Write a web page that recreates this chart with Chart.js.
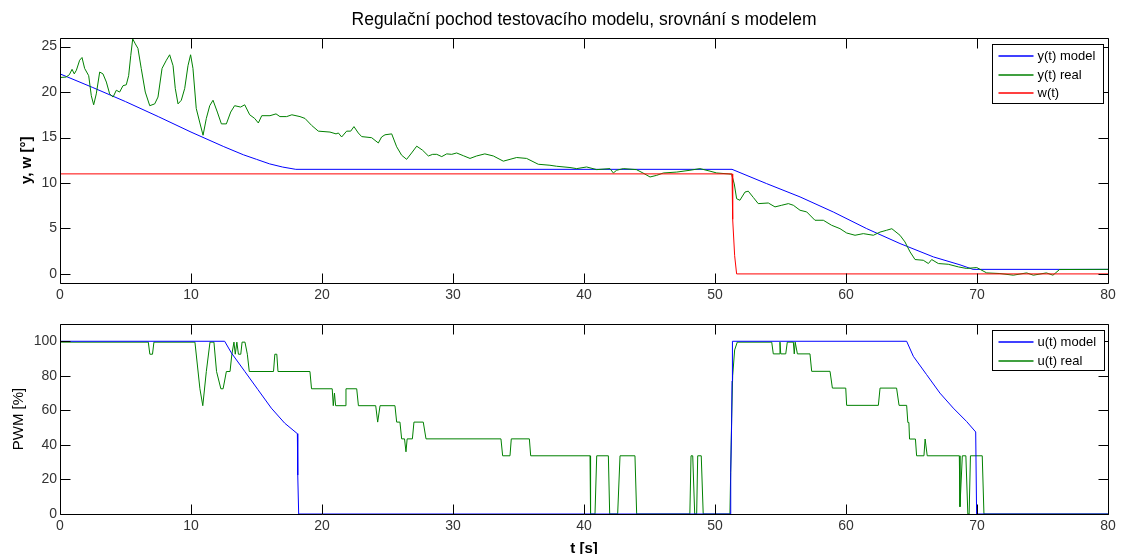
<!DOCTYPE html>
<html lang="cs">
<head>
<meta charset="UTF-8">
<title>Regulační pochod testovacího modelu</title>
<script src="https://cdn.jsdelivr.net/npm/chart.js@4"></script>
<style>
    body { margin: 0; background: #fff; font-family: "Liberation Sans", Arial, sans-serif; }
    #wrap { position: relative; width: 1126px; height: 554px; overflow: hidden; background: #fff; }
    #top { position: absolute; left: 0; top: 0; }
    #bottom { position: absolute; left: 0; top: 305px; }
</style>
</head>
<body>
<div id="wrap">
    <canvas id="top" width="1126" height="305"></canvas>
    <canvas id="bottom" width="1126" height="255"></canvas>
</div>
<script>
    // --- values ---
    const xTicks = [0, 10, 20, 30, 40, 50, 60, 70, 80];
    const yTicksTop = [0, 5, 10, 15, 20, 25];
    const yTicksBottom = [0, 20, 40, 60, 80, 100];

    // y(t) model
    const yModelT = [0, 2.5, 5, 7.5, 10, 12.5, 14, 15, 16, 17, 18, 51.3, 53.94, 56.49, 59.03, 61.58, 64.12, 66.67, 68.7, 69.7, 80];
    const yModelV = [22, 20.5, 18.95, 17.3, 15.6, 14.0, 13.1, 12.6, 12.1, 11.75, 11.5, 11.5, 9.93, 8.47, 6.81, 4.98, 3.34, 1.87, 1.0, 0.5, 0.5];

    // y(t) real
    const yRealT = [0, 0.46, 0.71, 0.92, 1.09, 1.25, 1.5, 1.68, 1.88, 2.19, 2.39, 2.57, 2.77, 3.03, 3.28, 3.54, 3.79, 4.05, 4.3, 4.55,
        4.81, 5.06, 5.24, 5.4, 5.55, 5.75, 5.95, 6.2, 6.51, 6.85, 7.23, 7.48, 7.79, 8.12, 8.37, 8.63, 8.8, 9.01, 9.26, 9.52,
        9.77, 9.97, 10.15, 10.4, 10.66, 10.92, 11.17, 11.43, 11.68, 12.01, 12.32, 12.7, 13.03, 13.33, 13.79, 14.1, 14.48, 14.86, 15.14, 15.4,
        16.03, 16.49, 16.79, 17.3, 17.7, 18.32, 18.7, 19.21, 19.72, 20.61, 21.07, 21.25, 21.5, 21.88, 22.19, 22.44, 22.77, 23.03, 23.79, 24.3,
        24.55, 24.81, 25.32, 25.7, 26.08, 26.46, 26.84, 27.23, 27.68, 28.12, 28.45, 28.76, 29.14, 29.52, 29.9, 30.28, 30.79, 31.3, 31.8, 32.43,
        33.08, 33.84, 34.86, 35.62, 36.51, 37.4, 37.91, 38.93, 39.44, 40.2, 40.97, 41.98, 42.24, 42.49, 43.0, 44.0, 44.5, 45.04, 45.55, 46.06,
        47.08, 48.09, 48.85, 49.62, 50.13, 51.0, 51.27, 51.47, 51.65, 51.9, 52.29, 52.54, 52.93, 53.3, 54.07, 54.58, 55.09, 55.6, 55.98, 56.49,
        57.0, 57.63, 58.27, 58.9, 59.54, 60.05, 60.69, 61.32, 62.09, 62.6, 63.1, 63.5, 64.12, 64.5, 64.89, 65.27, 65.9, 66.29, 66.54, 67.05,
        67.81, 68.58, 69.2, 69.98, 70.74, 71.75, 72.77, 73.79, 74.3, 75.3, 75.8, 76.3, 80];
    const yRealV = [21.6, 21.65, 21.9, 22.5, 22.0, 22.4, 23.5, 23.8, 22.6, 21.8, 19.6, 18.6, 19.8, 22.2, 22.0, 21.1, 19.8, 19.45, 20.2, 20.0,
        20.7, 20.8, 21.8, 24.0, 25.85, 25.3, 24.8, 22.6, 20.0, 18.5, 18.7, 19.45, 22.6, 23.5, 24.1, 22.9, 20.4, 18.7, 19.1, 20.4,
        22.9, 24.1, 22.6, 18.2, 16.7, 15.25, 17.1, 18.5, 19.1, 17.8, 16.5, 16.5, 17.8, 18.5, 18.35, 18.6, 17.5, 17.1, 16.6, 17.4,
        17.4, 17.6, 17.3, 17.3, 17.5, 17.3, 17.1, 16.33, 15.7, 15.6, 15.4, 15.5, 15.06, 15.7, 15.7, 16.2, 15.5, 15.1, 14.98, 14.4,
        15.06, 15.3, 15.4, 13.98, 13.05, 12.6, 13.3, 14.05, 13.6, 12.97, 13.15, 13.15, 12.9, 13.2, 13.15, 13.3, 13.0, 12.7, 12.97, 13.2,
        12.97, 12.4, 12.8, 12.7, 12.06, 11.95, 11.84, 11.7, 11.58, 11.76, 11.47, 11.58, 11.1, 11.4, 11.58, 11.47, 11.1, 10.66, 10.84, 11.1,
        11.2, 11.4, 11.58, 11.3, 11.1, 11.0, 10.96, 9.9, 8.27, 8.1, 9.0, 9.1, 8.4, 7.73, 7.8, 7.37, 7.55, 7.73, 7.55, 7.0,
        6.82, 5.9, 5.9, 5.35, 4.98, 4.5, 4.25, 4.43, 4.25, 4.6, 4.8, 4.97, 4.25, 3.52, 2.42, 1.58, 1.5, 1.14, 1.58, 1.14,
        1.06, 0.77, 0.6, 0.7, 0.11, 0.04, -0.14, 0.11, -0.14, 0.11, -0.14, 0.48, 0.5];

    // w(t)
    const wT = [0, 51.3, 51.35, 51.5, 51.65, 80];
    const wV = [11, 11, 6, 2, 0, 0];

    // u(t) model
    const uModelT = [0, 12.57, 13.08, 14.1, 15.11, 16.13, 17.15, 18.12, 18.15, 18.22, 51.15, 51.2, 51.27, 51.3, 51.33,
        64.63, 65.14, 66.15, 67.17, 68.19, 69.2, 69.9, 69.97, 80];
    const uModelV = [100, 100, 93.3, 82.6, 72, 61.3, 52.6, 46.5, 22.5, 0, 0, 24, 52, 77, 100,
        100, 91.3, 80.7, 70, 61.3, 53.6, 47.5, 0, 0];

    // u(t) real
    const uRealT = [0, 6.74, 6.86, 7.06, 7.17, 10.3, 10.68, 10.9, 11.17, 11.45, 11.75, 11.95, 12.28, 12.45, 12.7, 12.98, 13.12, 13.28, 13.38, 13.5,
        13.62, 13.8, 13.9, 14.12, 14.3, 14.45, 16.3, 16.4, 16.55, 16.64, 19.08, 19.2, 20.78, 20.86, 20.95, 21.04, 21.76, 21.83, 22.65, 22.78,
        24.1, 24.25, 24.43, 25.57, 25.7, 25.95, 26.08, 26.3, 26.41, 26.5, 26.9, 27.02, 27.73, 27.94, 33.66, 33.79, 34.35, 34.45, 35.83, 35.93,
        40.46, 40.5, 40.84, 40.97, 41.86, 41.96, 42.57, 42.75, 43.89, 44.02, 48.08, 48.17, 48.3, 48.45, 48.6, 48.68, 48.95, 49.1, 51.14, 51.27,
        51.35, 51.5, 51.7, 54.33, 54.45, 54.9, 54.96, 55.02, 55.4, 55.52, 55.98, 56.05, 56.12, 56.29, 57.25, 57.38, 58.78, 58.96, 59.98, 60.05,
        62.47, 62.6, 63.86, 64.05, 64.63, 64.72, 64.8, 64.85, 65.3, 65.39, 65.95, 66.04, 66.1, 66.2, 68.65, 68.7, 68.88, 69.15, 69.3, 69.4,
        69.5, 70.4, 70.53, 80];
    const uRealV = [99.5, 99.5, 92.5, 92.5, 99.5, 99.5, 72.5, 62.7, 82.5, 99.5, 99.5, 82.5, 72.5, 72.5, 82.5, 82.5, 92.5, 99.5, 92.5, 99.5,
        92.5, 92.5, 99.5, 99.5, 92.5, 82.5, 82.5, 92.5, 92.5, 82.5, 82.5, 72.5, 72.5, 62.7, 70, 62.7, 62.7, 72.5, 72.5, 62.7,
        62.7, 53.2, 62.7, 62.7, 53.2, 53.2, 43.5, 43.5, 36, 43.5, 43.5, 53.2, 53.2, 43.5, 43.5, 33.7, 33.7, 43.5, 43.5, 33.7,
        33.7, 0, 0, 33.7, 33.7, 0, 0, 33.7, 33.7, 0, 0, 33.7, 33.7, 0, 0, 33.7, 33.7, 0, 0, 55,
        80, 95, 99.5, 99.5, 92.7, 92.7, 99.5, 92.7, 92.7, 99.5, 99.5, 92.7, 99.5, 92.7, 92.7, 82.6, 82.6, 72.9, 72.9, 62.9,
        62.9, 72.9, 72.9, 62.9, 62.9, 53, 53, 43.4, 43.4, 33.7, 33.7, 43.4, 43.4, 33.7, 33.7, 4.2, 33.7, 33.7, 0, 0,
        33.7, 33.7, 0, 0];

    const pts = (t, v) => t.map((x, i) => ({ x: x, y: v[i] }));

    // box, inward ticks and MATLAB-like legend
    const matlabAxes = {
        id: 'matlabAxes',
        afterDatasetsDraw(chart) {
            const { ctx, chartArea: a, scales } = chart;
            const L = Math.round(a.left) + 0.5, R = Math.round(a.right) + 0.5;
            const T = Math.round(a.top) + 0.5, B = Math.round(a.bottom) + 0.5;
            ctx.save();
            ctx.strokeStyle = '#000';
            ctx.lineWidth = 1;
            ctx.beginPath();
            ctx.rect(L, T, R - L, B - T);
            scales.x.ticks.forEach(t => {
                const px = Math.round(scales.x.getPixelForValue(t.value)) + 0.5;
                ctx.moveTo(px, B); ctx.lineTo(px, B - 10);
                ctx.moveTo(px, T); ctx.lineTo(px, T + 10);
            });
            scales.y.ticks.forEach(t => {
                const py = Math.round(scales.y.getPixelForValue(t.value)) + 0.5;
                ctx.moveTo(L, py); ctx.lineTo(L + 10, py);
                ctx.moveTo(R, py); ctx.lineTo(R - 10, py);
            });
            ctx.stroke();
            ctx.restore();
        },
        afterDraw(chart) {
            const { ctx, chartArea: a } = chart;
            const sets = chart.data.datasets;
            ctx.save();
            ctx.font = '13px "Liberation Sans", Arial, sans-serif';
            const tw = Math.max(...sets.map(d => ctx.measureText(d.label).width));
            const left = Math.round(a.right - 116) + 0.5;
            const top = Math.round(a.top + 6) + 0.5;
            const rowH = 18.7;
            const w = Math.round(45 + tw + 8), h = Math.round(sets.length * rowH + 3);
            ctx.fillStyle = '#fff';
            ctx.fillRect(left, top, w, h);
            ctx.strokeStyle = '#000';
            ctx.lineWidth = 1;
            ctx.strokeRect(left, top, w, h);
            sets.forEach((d, i) => {
                const cy = Math.round(top + 11.5 + i * rowH);
                ctx.strokeStyle = d.borderColor;
                ctx.lineWidth = 1.5;
                ctx.beginPath();
                ctx.moveTo(left + 6, cy); ctx.lineTo(left + 41, cy);
                ctx.stroke();
                ctx.fillStyle = '#000';
                ctx.textBaseline = 'middle';
                ctx.fillText(d.label, left + 45, cy);
            });
            ctx.restore();
        }
    };

    const tickFont = { family: '"Liberation Sans", Arial, sans-serif', size: 14 };

    function axes(yMin, yMax, yTicks, yTitle, yTitlePad, xTitle) {
        return {
            x: {
                type: 'linear', position: 'bottom', min: 0, max: 80,
                grid: { display: false, drawTicks: false }, border: { display: false },
                ticks: { color: '#333', font: tickFont, padding: 4, maxRotation: 0 },
                afterBuildTicks: s => { s.ticks = xTicks.map(v => ({ value: v })); },
                title: xTitle ? { display: true, text: xTitle, color: '#000',
                    font: { family: '"Liberation Sans", Arial, sans-serif', size: 15, weight: 'bold' },
                    padding: { top: 0, bottom: 2 } } : { display: false },
                afterFit: s => { s.height = xTitle ? 46 : 22; }
            },
            y: {
                position: 'left', min: yMin, max: yMax,
                grid: { display: false, drawTicks: false }, border: { display: false },
                ticks: { color: '#333', font: tickFont, padding: 3 },
                afterBuildTicks: s => { s.ticks = yTicks.map(v => ({ value: v })); },
                title: { display: true, text: yTitle.text, color: '#000',
                    font: { family: '"Liberation Sans", Arial, sans-serif', size: 15, weight: yTitle.weight },
                    padding: { top: yTitlePad, bottom: 0 } },
                afterFit: s => { s.width = 60; }
            },
            yRight: {
                position: 'right', min: yMin, max: yMax,
                grid: { display: false, drawTicks: false }, border: { display: false },
                ticks: { display: false },
                afterFit: s => { s.width = 18; }
            }
        };
    }

    new Chart(document.getElementById('top'), {
        type: 'line',
        data: {
            datasets: [
                { label: 'y(t) model', data: pts(yModelT, yModelV), borderColor: '#0000ff', order: 3 },
                { label: 'y(t) real', data: pts(yRealT, yRealV), borderColor: '#008000', order: 2 },
                { label: 'w(t)', data: pts(wT, wV), borderColor: '#ff0000', order: 1 }
            ]
        },
        options: {
            responsive: false,
            animation: false,
            events: [],
            elements: { point: { radius: 0 }, line: { borderWidth: 1, tension: 0 } },
            layout: { padding: 0 },
            plugins: {
                legend: { display: false },
                tooltip: { enabled: false },
                title: {
                    display: true, fullSize: false,
                    text: 'Regulační pochod testovacího modelu, srovnání s modelem',
                    color: '#000',
                    font: { family: '"Liberation Sans", Arial, sans-serif', size: 17.5, weight: 'normal', lineHeight: 1.2 },
                    padding: { top: 10, bottom: 6.5 }
                }
            },
            scales: axes(-1, 26, yTicksTop, { text: 'y, w [°]', weight: 'bold' }, 18, null)
        },
        plugins: [matlabAxes]
    });

    new Chart(document.getElementById('bottom'), {
        type: 'line',
        data: {
            datasets: [
                { label: 'u(t) model', data: pts(uModelT, uModelV), borderColor: '#0000ff', order: 1 },
                { label: 'u(t) real', data: pts(uRealT, uRealV), borderColor: '#008000', order: 2 }
            ]
        },
        options: {
            responsive: false,
            animation: false,
            events: [],
            elements: { point: { radius: 0 }, line: { borderWidth: 1, tension: 0 } },
            layout: { padding: { top: 19, left: 0, right: 0, bottom: 0 } },
            plugins: { legend: { display: false }, tooltip: { enabled: false } },
            scales: axes(0, 110, yTicksBottom, { text: 'PWM [%]', weight: 'normal' }, 10, 't [s]')
        },
        plugins: [matlabAxes]
    });
</script>
</body>
</html>
